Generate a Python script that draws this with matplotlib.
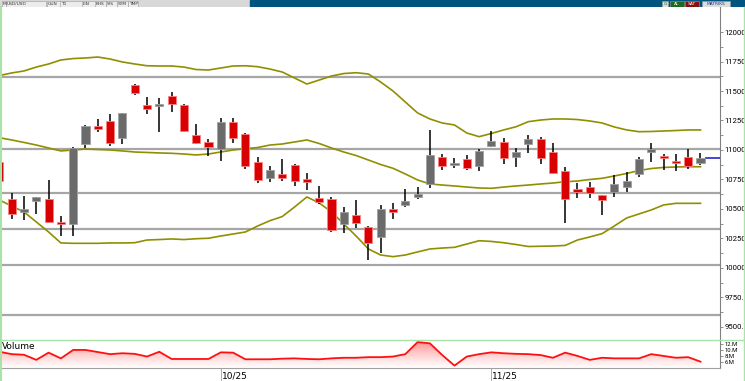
import numpy as np
import matplotlib
matplotlib.use("Agg")
import matplotlib.pyplot as plt
from matplotlib.colors import LinearSegmentedColormap
from matplotlib.lines import Line2D
from matplotlib.patches import Rectangle

# daily candles, two date labels: 10/25 at index 18, 11/25 at index 40
opens = [10896, 10582, 10475, 10568, 10585, 10390, 10370, 11048, 11203, 11246,
         11099, 11551, 11381, 11373, 11458, 11381, 11127, 11068, 11008, 11240,
         11133, 10896, 10760, 10799, 10873, 10752, 10596, 10582, 10370, 10449,
         10347, 10263, 10497, 10531, 10599, 10712, 10941, 10873, 10921, 10864,
         11034, 11068, 10943, 11048, 11093, 10986, 10822, 10669, 10686, 10619,
         10647, 10684, 10794, 10981, 10949, 10907, 10943, 10887]
highs = [10915, 10633, 10613, 10604, 10746, 10443, 11028, 11212, 11265, 11305,
         11316, 11559, 11447, 11443, 11494, 11387, 11220, 11091, 11274, 11274,
         11142, 10943, 10864, 10924, 10879, 10803, 10697, 10604, 10514, 10576,
         10356, 10534, 10548, 10672, 10689, 11170, 10966, 10935, 10960, 11006,
         11164, 11099, 11014, 11127, 11108, 11057, 10853, 10723, 10729, 10619,
         10788, 10816, 10943, 11057, 10964, 10964, 11006, 10972]
lows = [10720, 10415, 10407, 10455, 10379, 10274, 10274, 11014, 11155, 11036,
        11051, 11466, 11305, 11150, 11322, 11150, 11051, 10952, 10907, 11062,
        10839, 10718, 10726, 10737, 10695, 10661, 10540, 10308, 10299, 10339,
        10064, 10125, 10418, 10517, 10582, 10675, 10831, 10845, 10831, 10825,
        11023, 10879, 10858, 10977, 10879, 10797, 10384, 10591, 10591, 10449,
        10599, 10647, 10774, 10901, 10831, 10825, 10842, 10873]
closes = [10737, 10455, 10500, 10599, 10390, 10375, 11019, 11206, 11178, 11057,
          11311, 11481, 11347, 11387, 11392, 11161, 11057, 11023, 11237, 11099,
          10867, 10743, 10828, 10765, 10737, 10731, 10562, 10322, 10477, 10377,
          10214, 10497, 10475, 10565, 10627, 10955, 10864, 10887, 10845, 10994,
          11076, 10928, 10983, 11091, 10935, 10803, 10582, 10647, 10638, 10576,
          10712, 10740, 10921, 11006, 10930, 10892, 10867, 10930]

# bollinger bands
upper = [11631, 11653, 11670, 11703, 11729, 11763, 11775, 11780, 11788, 11771,
         11746, 11729, 11714, 11712, 11712, 11703, 11682, 11678, 11695, 11712,
         11714, 11706, 11686, 11661, 11610, 11559, 11593, 11627, 11648, 11655,
         11644, 11576, 11500, 11407, 11314, 11263, 11229, 11212, 11144, 11113,
         11140, 11170, 11197, 11240, 11254, 11263, 11263, 11258, 11246, 11229,
         11195, 11170, 11155, 11157, 11161, 11165, 11170, 11170]
middle = [11104, 11085, 11064, 11042, 11017, 10992, 11000, 11008, 11004, 11000,
          10992, 10983, 10979, 10975, 10972, 10966, 10958, 10966, 10983, 11000,
          11011, 11021, 11042, 11051, 11068, 11085, 11055, 11017, 10983, 10953,
          10915, 10877, 10845, 10797, 10746, 10712, 10703, 10695, 10686, 10678,
          10675, 10686, 10695, 10703, 10712, 10720, 10731, 10737, 10750, 10760,
          10780, 10801, 10826, 10843, 10852, 10856, 10858, 10858]
lower = [10576, 10525, 10475, 10390, 10305, 10212, 10209, 10209, 10209, 10212,
         10212, 10214, 10237, 10241, 10246, 10241, 10248, 10252, 10271, 10288,
         10305, 10356, 10401, 10436, 10517, 10602, 10551, 10475, 10373, 10271,
         10161, 10110, 10096, 10110, 10136, 10161, 10169, 10175, 10203, 10231,
         10225, 10214, 10199, 10182, 10184, 10186, 10191, 10237, 10263, 10291,
         10356, 10424, 10458, 10492, 10534, 10548, 10548, 10548]

# volume in millions
volume = [9.4, 8.6, 8.4, 6.7, 9.1, 7.2, 10.0, 10.0, 9.3, 8.6,
          8.9, 8.7, 7.8, 9.4, 7.0, 7.0, 7.0, 7.0, 9.2, 9.1,
          6.9, 6.9, 6.9, 7.1, 7.2, 7.0, 6.9, 7.2, 7.4, 7.4,
          7.6, 7.6, 7.8, 8.6, 12.6, 12.2, 8.3, 4.8, 7.8, 8.6,
          9.2, 8.9, 8.7, 8.6, 8.3, 7.4, 9.1, 8.0, 6.7, 7.4,
          7.2, 7.2, 7.2, 8.6, 8.0, 7.4, 7.6, 6.1]

levels = [11615, 11005, 10635, 10330, 10025, 9600]
price_ticks = [12000, 11750, 11500, 11250, 11000, 10750, 10500, 10250, 10000, 9750, 9500]
price_labels = ["12000", "11750", "11500", "11250", "11000", "10750", "10500",
                "10250", "10000", "9750.", "9500."]
vol_ticks = [12, 10, 8, 6]
vol_labels = ["12.M", "10.M", "8.M", "6.M"]
date_idx = [18, 40]
date_labels = ["10/25", "11/25"]

W, H = 745, 381
fig = plt.figure(figsize=(W / 100, H / 100), dpi=100)
fig.patch.set_facecolor("white")


def rect(x0, y0, x1, y1):
    return [x0 / W, 1 - y1 / H, (x1 - x0) / W, (y1 - y0) / H]


xmin = 0.049
xmax = xmin + 720 / 12.3
idx = np.arange(len(opens))
o = np.array(opens); c = np.array(closes)
hi = np.array(highs); lo = np.array(lows)

ax = fig.add_axes(rect(0, 7, 720, 339))
ax.set_xlim(xmin, xmax)
ax.set_ylim(9398, 12212)

for lv in levels:
    ax.axhline(lv, color="#a6a6a6", lw=1.6, zorder=1)

ax.plot(idx, upper, color="#8f8f00", lw=1.2, zorder=2)
ax.plot(idx, middle, color="#8f8f00", lw=1.2, zorder=2)
ax.plot(idx, lower, color="#8f8f00", lw=1.2, zorder=2)

up = c >= o
body_lo = np.minimum(o, c)
body_h = np.maximum(np.abs(c - o), 18)
ax.vlines(idx, lo, hi, color="black", lw=1.1, zorder=3)
ax.bar(idx[up], body_h[up], bottom=body_lo[up], width=0.66,
       color="#6b6b6b", edgecolor="#a0a0a0", lw=0.6, zorder=4)
ax.bar(idx[~up], body_h[~up], bottom=body_lo[~up], width=0.66,
       color="#d80000", edgecolor="#ff8080", lw=0.6, zorder=4)

# last price marker
ax.hlines(closes[-1], idx[-1] + 0.35, xmax, color="#2828c8", lw=1.2, zorder=3)

ax.yaxis.tick_right()
ax.set_yticks(price_ticks)
ax.set_yticklabels(price_labels, fontsize=5.6, ha="left", family="Roboto")
ax.set_yticks(np.arange(9625, 12000, 250), minor=True)
ax.tick_params(axis="y", which="major", length=2.5, width=0.6, color="#808080", pad=0.8)
ax.tick_params(axis="y", which="minor", length=2, width=0.6, color="#808080")
ax.set_xticks([])
for s in ["top", "left", "bottom"]:
    ax.spines[s].set_visible(False)
ax.spines["right"].set_color("#808080")
ax.spines["right"].set_linewidth(0.8)

# volume panel
vax = fig.add_axes(rect(0, 340, 720, 368))
vax.set_xlim(xmin, xmax)
vax.set_ylim(4, 13.3)
poly = vax.fill_between(idx, volume, 4, color="none", lw=0)
grad = np.linspace(0, 1, 100).reshape(-1, 1)
cmap = LinearSegmentedColormap.from_list("vg", ["#ffffff", "#ffd0d0", "#ff9090"])
im = vax.imshow(grad, extent=[xmin, xmax, 4, 12.8], origin="lower",
                aspect="auto", cmap=cmap, zorder=1)
im.set_clip_path(poly.get_paths()[0], transform=vax.transData)
vax.plot(idx, volume, color="#ff1010", lw=1.3, zorder=2)
vax.text(0.003, 0.93, "Volume", transform=vax.transAxes, fontsize=6.5,
         va="top", ha="left")
vax.yaxis.tick_right()
vax.set_yticks(vol_ticks)
vax.set_yticklabels(vol_labels, fontsize=4.2, ha="left", family="Roboto")
vax.tick_params(axis="y", length=2, width=0.6, color="#808080", pad=1)
vax.set_xticks(date_idx)
vax.set_xticklabels([])
vax.tick_params(axis="x", length=13, width=0.6, color="#a0a0a0")
for i, lab in zip(date_idx, date_labels):
    vax.text(i + 0.08, -0.12, lab, transform=vax.get_xaxis_transform(),
             fontsize=6.5, va="top", ha="left")
vax.spines["top"].set_visible(False)
vax.spines["left"].set_visible(False)
vax.spines["right"].set_color("#808080")
vax.spines["right"].set_linewidth(0.8)
vax.spines["bottom"].set_color("#a0a0a0")
vax.spines["bottom"].set_linewidth(0.8)

# toolbar strip at the top
bar = fig.add_axes(rect(0, 0, 745, 7))
bar.set_xlim(0, 745)
bar.set_ylim(7, 0)
bar.axis("off")
bar.add_patch(Rectangle((0, 0), 250, 7, color="#d8d8d8"))
bar.add_patch(Rectangle((250, 0), 495, 7, color="#00557f"))
buttons = [(2, 4, "M"), (6, 40, "USD/USD"), (47, 20, "GUN"), (60, 24, "T1"),
           (82, 14, "LIN"), (95, 11, "KHS"), (106, 11, "S/S"), (117, 11, "SYM"),
           (128, 10, "TMP")]
for x0, w, t in buttons:
    bar.add_patch(Rectangle((x0, 0.5), w, 6, facecolor="#ececec",
                            edgecolor="#9a9a9a", lw=0.4))
    bar.text(x0 + 1, 3.6, t, fontsize=3.2, va="center", ha="left", color="#333333")
right_btns = [(662, 6, "G", "#dcdcdc", "#1a6a1a"), (670, 14, "AL", "#1d6b1d", "white"),
              (685, 14, "SAT", "#8a1010", "white"), (702, 28, "MATRIKS", "#dcdcdc", "#1d3a7a")]
for x0, w, t, fc, tc in right_btns:
    bar.add_patch(Rectangle((x0, 0.5), w, 6, facecolor=fc, edgecolor="#9a9a9a", lw=0.4))
    bar.text(x0 + w / 2, 3.6, t, fontsize=3.2, va="center", ha="center", color=tc)

# light green frame lines
green = "#a8e4a8"
fig.add_artist(Line2D([0.5 / W, 0.5 / W], [0, 1 - 7 / H], color=green, lw=1.5))
fig.add_artist(Line2D([744 / W, 744 / W], [0, 1 - 7 / H], color=green, lw=1.0))
fig.add_artist(Line2D([0, 1], [1 - 339.5 / H, 1 - 339.5 / H], color=green, lw=1.0))

fig.savefig("out.png", dpi=100)
